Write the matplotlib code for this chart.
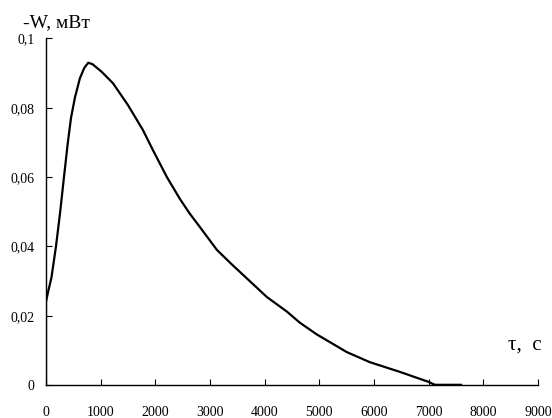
import numpy as np
import matplotlib
matplotlib.use("Agg")
import matplotlib.pyplot as plt
from matplotlib.ticker import FuncFormatter

plt.rcParams['font.family'] = ['Liberation Serif', 'DejaVu Serif']

# time, s and heat flow -W, mW
tau = [0, 0, 40, 100, 183, 260, 329, 400, 457, 530, 620, 700, 773, 850,
       1018, 1225, 1499, 1773, 1956, 2212, 2450, 2633, 2815, 3126, 3400,
       3700, 4040, 4406, 4643, 4954, 5503, 5923, 6472, 6800, 7000, 7120, 7570]
W = [0, 0.024, 0.027, 0.031, 0.04, 0.05, 0.06, 0.07, 0.077, 0.083, 0.0885,
     0.0915, 0.093, 0.0926, 0.0904, 0.0871, 0.0808, 0.0736, 0.0678, 0.060,
     0.0537, 0.0494, 0.0456, 0.039, 0.0348, 0.0304, 0.0254, 0.0212, 0.0180,
     0.0146, 0.0095, 0.0066, 0.0038, 0.002, 0.0009, 0, 0]

xticks = np.arange(0, 9001, 1000)
yticks = [0, 0.02, 0.04, 0.06, 0.08, 0.1]

fig = plt.figure(figsize=(5.52, 4.18), dpi=100)
ax = fig.add_axes([0.0833, 0.0789, 0.8913, 0.829])

ax.plot(tau, W, color='black', lw=1.6, solid_joinstyle='round')
ax.plot([7120, 7570], [0, 0], color='black', lw=2.5)

ax.set_xlim(0, 9000)
ax.set_ylim(0, 0.1)
ax.set_xticks(xticks)
ax.set_yticks(yticks)

def comma(v, pos):
    s = ('%g' % v).replace('.', ',')
    return s

ax.yaxis.set_major_formatter(FuncFormatter(comma))
ax.spines['top'].set_visible(False)
ax.spines['right'].set_visible(False)
ax.spines['left'].set_linewidth(1.0)
ax.spines['bottom'].set_linewidth(1.0)
ax.tick_params(axis='x', direction='in', length=4, pad=15, labelsize=10)
ax.tick_params(axis='y', direction='in', length=4, pad=8, labelsize=10)

fig.text(0.042, 0.947, '-W, мВт', fontsize=14, va='center', ha='left')
fig.text(0.92, 0.175, 'τ,  с', fontsize=15, va='center', ha='left')

fig.savefig('out.png', dpi=100)
